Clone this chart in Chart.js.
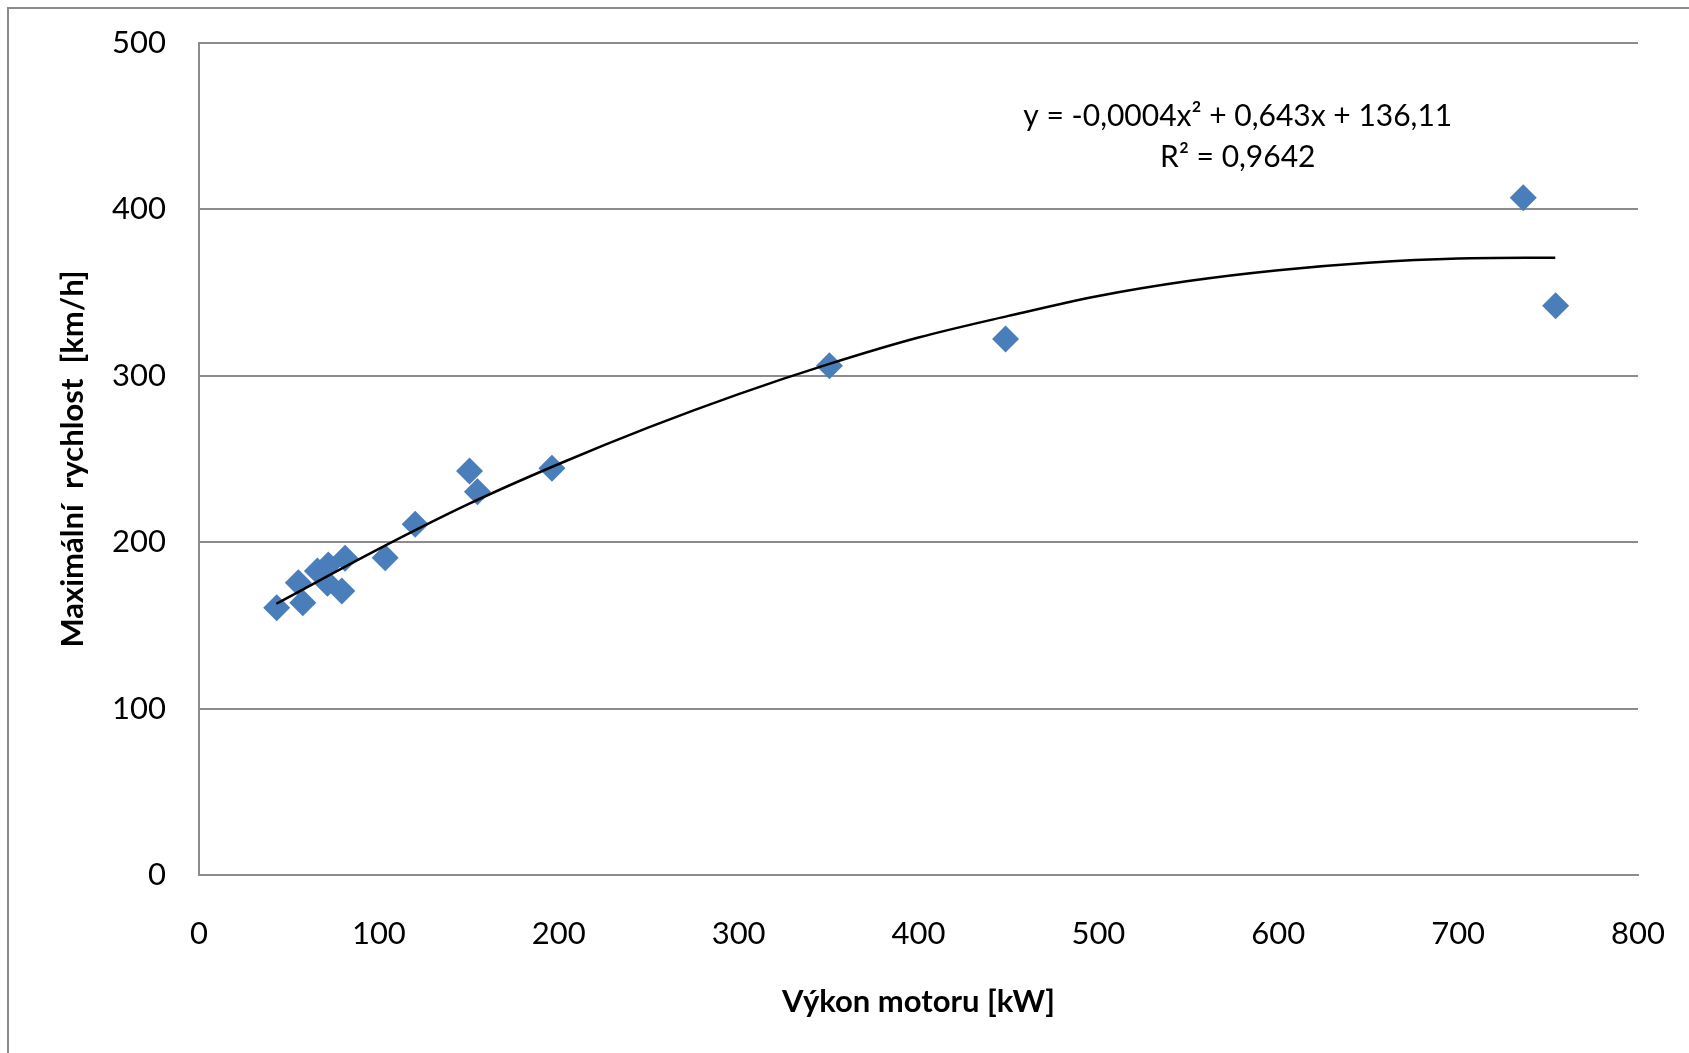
<!DOCTYPE html>
<html>
<head>
<meta charset="utf-8">
<script src="https://cdn.jsdelivr.net/npm/chart.js@4.4.0/dist/chart.umd.min.js"></script>
<style>
  html, body { margin: 0; padding: 0; background: #fff; }
  #wrap { width: 1689px; height: 1053px; position: relative; }
</style>
</head>
<body>
<div id="wrap"><canvas id="c" width="1689" height="1053"></canvas></div>
<script>
// Data
const powerKW = [43.2, 55.2, 57.7, 65.8, 71.9, 71.4, 81.2, 79.4, 103.5, 120.2, 150.4, 154.8, 196.2, 350.5, 448.4, 736.2, 754.2];
const maxSpeed = [160.6, 175.7, 163.6, 182.7, 186.3, 175.3, 190.3, 170.7, 190.7, 210.8, 242.8, 230.3, 244.4, 306.1, 322.1, 407.0, 342.1];
// Trend curve
const trendX = [43, 100, 150, 200, 250, 300, 350, 400, 450, 500, 550, 600, 650, 700, 754];
const trendY = [163, 196, 223, 247, 269, 289, 307, 323, 336, 348, 357, 363.5, 368, 370.5, 371];
const yTicks = [0, 100, 200, 300, 400, 500];
const xTicks = [0, 100, 200, 300, 400, 500, 600, 700, 800];
const xTitle = 'Výkon motoru [kW]';
const yTitle = 'Maximální  rychlost  [km/h]';
const eqLine1 = 'y = -0,0004x² + 0,643x + 136,11';
const eqLine2 = 'R² = 0,9642';

const FONT = 'Lato, "Open Sans", sans-serif';
const GRID = '#8c8c8c';

const framePlugin = {
  id: 'frame',
  afterDraw(chart) {
    const ctx = chart.ctx;
    ctx.save();
    ctx.strokeStyle = GRID;
    ctx.lineWidth = 2;
    ctx.beginPath();
    ctx.moveTo(8, 1053);
    ctx.lineTo(8, 8);
    ctx.lineTo(1689, 8);
    ctx.stroke();
    // equation label
    const xs = chart.scales.x, ys = chart.scales.y;
    ctx.fillStyle = '#000';
    ctx.font = '30px ' + FONT;
    ctx.textAlign = 'center';
    ctx.textBaseline = 'middle';
    const cx = xs.getPixelForValue(577.5);
    ctx.fillText(eqLine1, cx, ys.getPixelForValue(456));
    ctx.fillText(eqLine2, cx, ys.getPixelForValue(431));
    ctx.restore();
  }
};

new Chart(document.getElementById('c'), {
  type: 'scatter',
  data: {
    datasets: [
      {
        label: 'data',
        data: powerKW.map((x, i) => ({ x: x, y: maxSpeed[i] })),
        pointStyle: 'rectRot',
        pointRadius: 13.5,
        pointHoverRadius: 13.5,
        backgroundColor: '#4a7ebb',
        borderColor: '#4a7ebb',
        borderWidth: 0,
        order: 2
      },
      {
        label: 'trend',
        type: 'line',
        data: trendX.map((x, i) => ({ x: x, y: trendY[i] })),
        borderColor: '#000',
        borderWidth: 2.5,
        pointRadius: 0,
        tension: 0.4,
        cubicInterpolationMode: 'monotone',
        fill: false,
        order: 1
      }
    ]
  },
  options: {
    responsive: false,
    animation: false,
    devicePixelRatio: 1,
    layout: { padding: { top: 43, right: 51, left: 0, bottom: 0 } },
    plugins: { legend: { display: false }, tooltip: { enabled: false } },
    scales: {
      x: {
        type: 'linear',
        min: 0, max: 800,
        afterBuildTicks(s) { s.ticks = xTicks.map(v => ({ value: v })); },
        afterFit(s) { s.height = 178; s.paddingLeft = 0; s.paddingRight = 0; },
        grid: { display: false, drawTicks: false },
        border: { display: true, color: GRID, width: 2 },
        ticks: { color: '#000', font: { family: FONT, size: 31 }, padding: 40, maxRotation: 0 },
        title: { display: true, text: xTitle, color: '#000', font: { family: FONT, size: 31, weight: 'bold' }, padding: { top: 32, bottom: 32 } }
      },
      y: {
        type: 'linear',
        min: 0, max: 500,
        afterBuildTicks(s) { s.ticks = yTicks.map(v => ({ value: v })); },
        afterFit(s) { s.width = 199; s.paddingTop = 0; s.paddingBottom = 0; },
        grid: { display: true, color: GRID, lineWidth: 2, drawTicks: false },
        border: { display: true, color: GRID, width: 2 },
        ticks: { color: '#000', font: { family: FONT, size: 31 }, padding: 33 },
        title: { display: true, text: yTitle, color: '#000', font: { family: FONT, size: 31, weight: 'bold' }, padding: { top: 54, bottom: 54 } }
      }
    }
  },
  plugins: [framePlugin]
});
</script>
</body>
</html>
